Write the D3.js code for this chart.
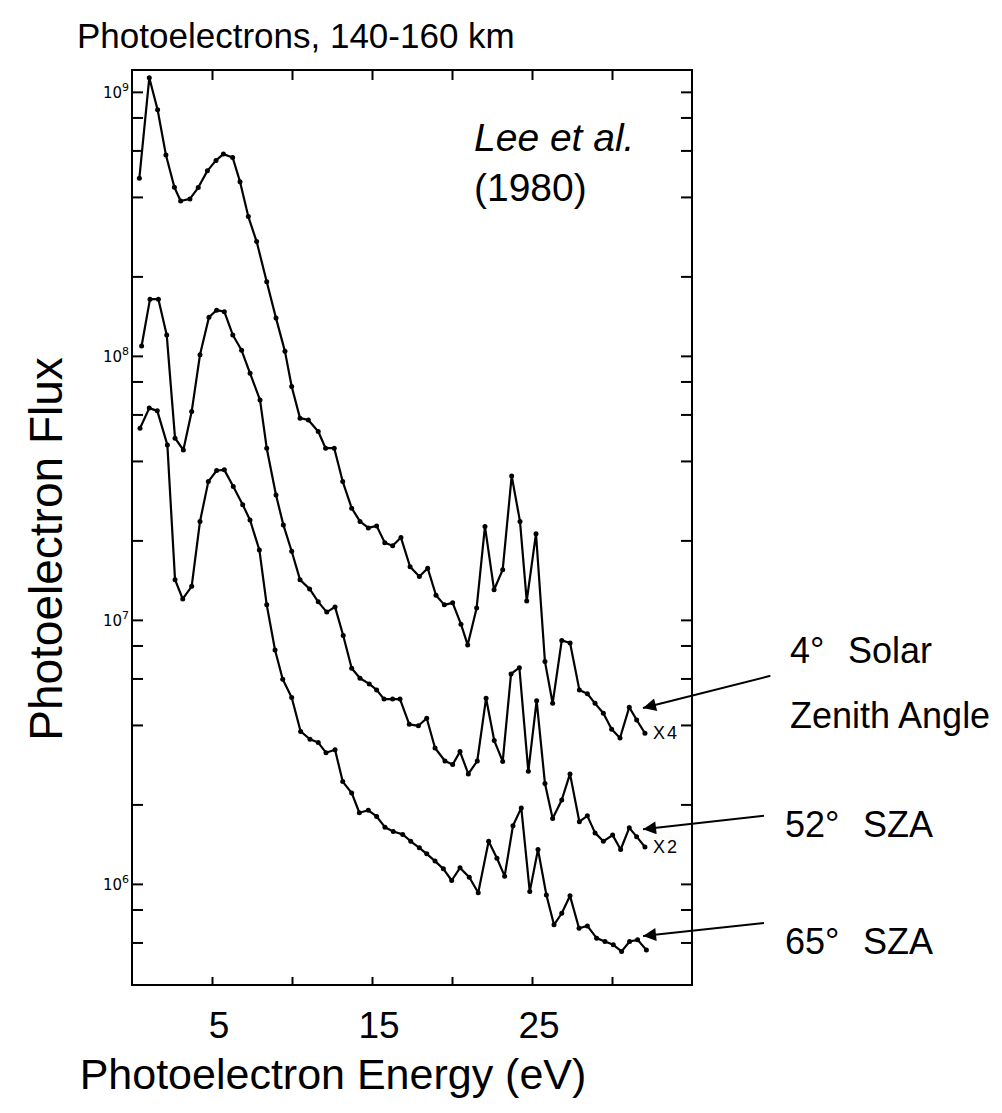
<!DOCTYPE html>
<html>
<head>
<meta charset="utf-8">
<script src="https://cdn.jsdelivr.net/npm/d3@7"></script>
<style>
  body { margin: 0; background: #fff; }
  text { font-family: "Liberation Sans", Arial, sans-serif; fill: #000; }
</style>
</head>
<body>
<div id="chart"></div>
<script>
// Energias (eV) e fluxos, uma curva por ângulo zenital
const energy4 = [0.46, 1.08, 1.6, 2.12, 2.65, 3.04, 3.62, 4.14, 4.71, 5.25, 5.71, 6.29, 6.75, 7.27, 7.79, 8.42, 9.0, 9.56, 9.98, 10.5,
  11.02, 11.64, 12.1, 12.64, 13.17, 13.73, 14.25, 14.77, 15.29, 15.8, 16.29, 16.81, 17.38, 17.96, 18.48, 19.0, 19.52, 20.04, 20.56, 20.98,
  21.54, 22.06, 22.63, 23.17, 23.73, 24.25, 24.67, 25.25, 25.81, 26.29, 26.86, 27.38, 27.96, 28.46, 28.94, 29.46, 29.98, 30.5, 31.08, 31.54, 32.06];
const flux4 = [4.71e8, 1.13e9, 8.55e8, 5.77e8, 4.35e8, 3.86e8, 3.93e8, 4.34e8, 5.02e8, 5.50e8, 5.81e8, 5.64e8, 4.57e8, 3.37e8, 2.71e8, 1.91e8, 1.39e8, 1.04e8, 7.66e7, 5.81e7,
  5.72e7, 5.17e7, 4.47e7, 4.47e7, 3.34e7, 2.65e7, 2.36e7, 2.23e7, 2.27e7, 1.96e7, 1.91e7, 2.05e7, 1.59e7, 1.46e7, 1.57e7, 1.24e7, 1.14e7, 1.16e7, 9.63e6, 8.04e6,
  1.11e7, 2.26e7, 1.30e7, 1.55e7, 3.51e7, 2.36e7, 1.18e7, 2.12e7, 6.95e6, 4.83e6, 8.36e6, 8.17e6, 5.43e6, 5.25e6, 4.83e6, 4.43e6, 3.85e6, 3.57e6, 4.67e6, 4.18e6, 3.72e6];

const energy52 = [0.6, 1.125, 1.65, 2.17, 2.69, 3.21, 3.73, 4.25, 4.81, 5.29, 5.77, 6.3, 6.85, 7.38, 8.0, 8.42, 9.0, 9.46, 9.98, 10.5,
  11.1, 11.64, 12.17, 12.69, 13.2, 13.73, 14.25, 14.83, 15.29, 15.75, 16.29, 16.75, 17.33, 17.9, 18.42, 18.94, 19.56, 20.04, 20.5, 21.02,
  21.58, 22.13, 22.64, 23.17, 23.69, 24.21, 24.77, 25.29, 25.81, 26.29, 26.86, 27.375, 27.96, 28.46, 28.94, 29.46, 30.04, 30.54, 31.08, 31.54, 32.06];
const flux52 = [1.09e8, 1.64e8, 1.64e8, 1.20e8, 4.88e7, 4.40e7, 6.15e7, 1.01e8, 1.40e8, 1.49e8, 1.47e8, 1.20e8, 1.05e8, 8.59e7, 6.81e7, 4.47e7, 2.97e7, 2.29e7, 1.82e7, 1.42e7,
  1.31e7, 1.17e7, 1.07e7, 1.12e7, 8.73e6, 6.56e6, 6.01e6, 5.72e6, 5.43e6, 5.01e6, 5.01e6, 5.01e6, 4.02e6, 3.97e6, 4.24e6, 3.27e6, 2.92e6, 2.83e6, 3.17e6, 2.61e6,
  2.92e6, 5.05e6, 3.49e6, 2.91e6, 6.24e6, 6.59e6, 2.67e6, 4.94e6, 2.40e6, 1.77e6, 2.08e6, 2.61e6, 1.72e6, 1.81e6, 1.56e6, 1.45e6, 1.53e6, 1.35e6, 1.63e6, 1.51e6, 1.38e6];

const energy65 = [0.5, 1.08, 1.58, 2.21, 2.69, 3.17, 3.73, 4.25, 4.77, 5.29, 5.77, 6.33, 6.92, 7.375, 7.96, 8.42, 8.94, 9.42, 9.98, 10.54,
  11.125, 11.64, 12.125, 12.69, 13.17, 13.73, 14.21, 14.77, 15.29, 15.81, 16.33, 16.92, 17.42, 17.96, 18.42, 18.94, 19.46, 19.98, 20.5, 21.08,
  21.64, 22.29, 22.81, 23.29, 23.81, 24.33, 24.86, 25.375, 25.9, 26.375, 26.86, 27.375, 27.94, 28.46, 29.04, 29.56, 30.08, 30.6, 31.1, 31.6, 32.15];
const flux65 = [5.32e7, 6.34e7, 6.19e7, 4.60e7, 1.42e7, 1.20e7, 1.34e7, 2.36e7, 3.34e7, 3.68e7, 3.70e7, 3.20e7, 2.73e7, 2.39e7, 1.84e7, 1.14e7, 7.69e6, 5.96e6, 5.08e6, 3.78e6,
  3.53e6, 3.43e6, 3.14e6, 3.22e6, 2.44e6, 2.21e6, 1.86e6, 1.90e6, 1.80e6, 1.64e6, 1.58e6, 1.54e6, 1.45e6, 1.37e6, 1.30e6, 1.22e6, 1.14e6, 1.03e6, 1.15e6, 1.06e6,
  9.25e5, 1.45e6, 1.25e6, 1.07e6, 1.66e6, 1.94e6, 9.35e5, 1.35e6, 9.08e5, 7.00e5, 7.74e5, 9.01e5, 6.79e5, 6.93e5, 6.23e5, 6.05e5, 5.88e5, 5.55e5, 6.05e5, 6.14e5, 5.62e5];

// Ticks e rótulos dos eixos
const xTicks = [5, 10, 15, 20, 25, 30];
const xTickLabels = [5, 15, 25];
const yMajorTicks = [1e6, 1e7, 1e8, 1e9];
const yMinorTicks = [6e5, 8e5, 2e6, 4e6, 6e6, 8e6, 2e7, 4e7, 6e7, 8e7, 2e8, 4e8, 6e8, 8e8];
const yTickExponents = [6, 7, 8, 9];

// Setas das anotações (ponta e cauda em unidades dos dados)
const arrowTips = [[31.94, 4.64e6], [31.94, 1.61e6], [31.94, 6.35e5]];
const arrowTails = [[39.9, 6.14e6], [39.5, 1.81e6], [39.5, 7.11e5]];
const multipliers = ["X4", "X2"];

const width = 1002, height = 1113;
const frame = { left: 132, right: 692, top: 70, bottom: 985 };

const svg = d3.select("#chart").append("svg")
    .attr("width", width)
    .attr("height", height);

const xScale = d3.scaleLinear()
    .domain([0, 35])
    .range([frame.left, frame.right]);

const yScale = d3.scaleLog()
    .domain([4.14e5, 1.21e9])
    .range([frame.bottom, frame.top]);

// Marcador de seta
svg.append("defs").append("marker")
    .attr("id", "arrow")
    .attr("viewBox", "0 0 10 10")
    .attr("refX", 10)
    .attr("refY", 5)
    .attr("markerUnits", "userSpaceOnUse")
    .attr("markerWidth", 17)
    .attr("markerHeight", 13)
    .attr("orient", "auto")
    .append("path")
    .attr("d", "M0,0 L10,5 L0,10 z")
    .attr("fill", "#000");

// Moldura do gráfico
svg.append("rect")
    .attr("x", frame.left)
    .attr("y", frame.top)
    .attr("width", frame.right - frame.left)
    .attr("height", frame.bottom - frame.top)
    .attr("fill", "none")
    .attr("stroke", "#000")
    .attr("stroke-width", 2);

// Eixos: ticks para dentro nos quatro lados
svg.append("g")
    .attr("transform", `translate(0,${frame.bottom})`)
    .call(d3.axisTop(xScale).tickValues(xTicks).tickSize(8).tickFormat(""))
    .call(g => g.select(".domain").remove())
    .selectAll("line").attr("stroke-width", 2);

svg.append("g")
    .attr("transform", `translate(0,${frame.top})`)
    .call(d3.axisBottom(xScale).tickValues(xTicks).tickSize(10).tickFormat(""))
    .call(g => g.select(".domain").remove())
    .selectAll("line").attr("stroke-width", 2);

[frame.left, frame.right].forEach((xPos, i) => {
    const axis = i === 0 ? d3.axisRight(yScale) : d3.axisLeft(yScale);
    svg.append("g")
        .attr("transform", `translate(${xPos},0)`)
        .call(axis.tickValues(yMajorTicks.concat(yMinorTicks)).tickSize(11).tickFormat(""))
        .call(g => g.select(".domain").remove())
        .selectAll("line").attr("stroke-width", 2);
});

// Rótulos do eixo y (10^n)
yMajorTicks.forEach((v, i) => {
    const t = svg.append("text")
        .attr("x", frame.left - 3)
        .attr("y", yScale(v) + 6)
        .attr("text-anchor", "end")
        .attr("font-size", "15px")
        .style("font-family", "'DejaVu Sans', sans-serif");
    t.append("tspan").text("10");
    t.append("tspan")
        .attr("dy", -7)
        .attr("font-size", "11px")
        .text(yTickExponents[i]);
});

// Rótulos do eixo x
svg.selectAll(".xlabel")
    .data(xTickLabels)
    .enter().append("text")
    .attr("class", "xlabel")
    .attr("x", d => xScale(d) + 7)
    .attr("y", 1038)
    .attr("text-anchor", "middle")
    .attr("font-size", "37px")
    .text(d => d);

// Curvas com pontos
const line = d3.line()
    .x(d => xScale(d[0]))
    .y(d => yScale(d[1]));

const curves = [d3.zip(energy4, flux4), d3.zip(energy52, flux52), d3.zip(energy65, flux65)];

curves.forEach(points => {
    svg.append("path")
        .attr("d", line(points))
        .attr("fill", "none")
        .attr("stroke", "#000")
        .attr("stroke-width", 2.2)
        .attr("stroke-linejoin", "round");

    svg.selectAll(null)
        .data(points)
        .enter().append("circle")
        .attr("cx", d => xScale(d[0]))
        .attr("cy", d => yScale(d[1]))
        .attr("r", 2.5)
        .attr("fill", "#000");
});

// Fatores de escala junto às curvas
multipliers.forEach((m, i) => {
    svg.append("text")
        .attr("x", 653)
        .attr("y", i === 0 ? 739 : 853)
        .attr("font-size", "18px")
        .attr("letter-spacing", "2px")
        .text(m);
});

// Setas
arrowTips.forEach((tip, i) => {
    svg.append("line")
        .attr("x1", xScale(arrowTails[i][0]))
        .attr("y1", yScale(arrowTails[i][1]))
        .attr("x2", xScale(tip[0]))
        .attr("y2", yScale(tip[1]))
        .attr("stroke", "#000")
        .attr("stroke-width", 2)
        .attr("marker-end", "url(#arrow)");
});

// Anotações à direita
const notes = [
    { x: 790, y: 663, a: "4°", bx: 848, b: "Solar" },
    { x: 790, y: 728, a: "Zenith Angle", bx: null, b: "" },
    { x: 785, y: 837, a: "52°", bx: 863, b: "SZA" },
    { x: 785, y: 954, a: "65°", bx: 863, b: "SZA" }
];
notes.forEach(n => {
    svg.append("text").attr("x", n.x).attr("y", n.y).attr("font-size", "36px").text(n.a);
    if (n.bx) svg.append("text").attr("x", n.bx).attr("y", n.y).attr("font-size", "36px").text(n.b);
});

// Referência
svg.append("text")
    .attr("x", 474)
    .attr("y", 151)
    .attr("font-size", "39px")
    .attr("font-style", "italic")
    .text("Lee et al.");

svg.append("text")
    .attr("x", 474)
    .attr("y", 201)
    .attr("font-size", "39px")
    .text("(1980)");

// Títulos
svg.append("text")
    .attr("x", 77)
    .attr("y", 48)
    .attr("font-size", "35px")
    .text("Photoelectrons, 140-160 km");

svg.append("text")
    .attr("x", 333)
    .attr("y", 1089)
    .attr("text-anchor", "middle")
    .attr("font-size", "43px")
    .text("Photoelectron Energy (eV)");

svg.append("text")
    .attr("transform", "translate(62,549) rotate(-90)")
    .attr("text-anchor", "middle")
    .attr("font-size", "46px")
    .text("Photoelectron Flux");
</script>
</body>
</html>
